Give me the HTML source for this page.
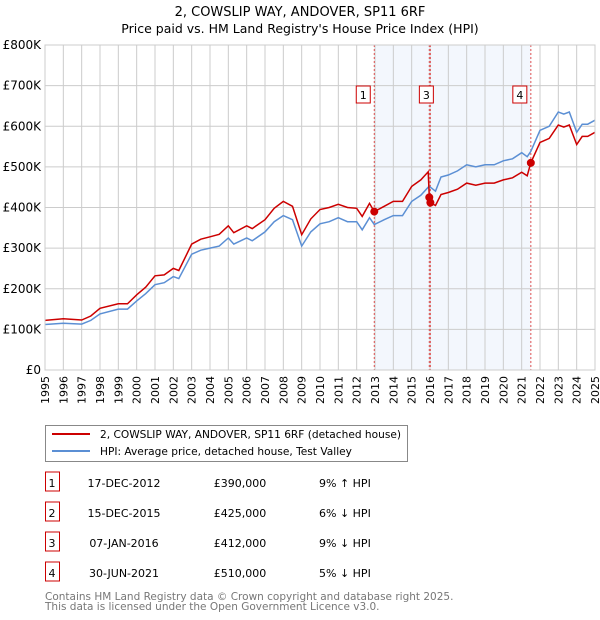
<!DOCTYPE html>
<html><head><meta charset="utf-8"><style>
body{margin:0;background:#fff;font-family:"Liberation Sans","DejaVu Sans",sans-serif;}
svg{display:block}
</style></head><body>
<svg width="600" height="620" xmlns="http://www.w3.org/2000/svg" font-family="DejaVu Sans, Liberation Sans, sans-serif">
<text x="300" y="16" text-anchor="middle" font-size="13">2, COWSLIP WAY, ANDOVER, SP11 6RF</text>
<text x="300" y="33" text-anchor="middle" font-size="12.5">Price paid vs. HM Land Registry's House Price Index (HPI)</text>
<g id="plot"></g>
<g>
<rect x="45.5" y="425.5" width="362" height="36" fill="#fff" stroke="#888"/>
<line x1="52" y1="434" x2="90" y2="434" stroke="#cc0000" stroke-width="2"/>
<text x="100" y="438" font-size="10.6">2, COWSLIP WAY, ANDOVER, SP11 6RF (detached house)</text>
<line x1="52" y1="451" x2="90" y2="451" stroke="#5b8fd4" stroke-width="2"/>
<text x="100" y="455" font-size="10.6">HPI: Average price, detached house, Test Valley</text>
</g>
<g id="table" font-size="11"></g>
<text x="45" y="600" font-size="10.5" fill="#777">Contains HM Land Registry data © Crown copyright and database right 2025.</text>
<text x="45" y="610" font-size="10.5" fill="#777">This data is licensed under the Open Government Licence v3.0.</text>
</svg>
<script>
const years=[1995,1996,1997,1997.5,1998,1999,1999.5,2000,2000.5,2001,2001.5,2002,2002.3,2003,2003.5,2004,2004.5,2005,2005.3,2006,2006.3,2007,2007.5,2008,2008.5,2009,2009.5,2010,2010.5,2011,2011.5,2012,2012.3,2012.7,2012.96,2013.5,2014,2014.5,2015,2015.5,2015.9,2015.96,2016.02,2016.3,2016.6,2017,2017.5,2018,2018.5,2019,2019.5,2020,2020.5,2021,2021.3,2021.5,2022,2022.5,2023,2023.3,2023.6,2024,2024.3,2024.6,2025];
const hpi=[112,115,113,122,138,150,150,170,188,210,215,230,225,285,295,300,305,325,310,325,318,340,365,380,370,305,340,360,365,375,365,365,345,375,358,370,380,380,415,430,450,452,450,440,475,480,490,505,500,505,505,515,520,535,525,538,590,600,635,630,635,585,605,605,615];
const price=[122,126,123,133,152,163,163,185,204,232,234,250,245,310,322,328,334,355,338,355,348,370,398,415,403,333,372,395,400,408,400,398,378,410,390,403,415,415,452,468,488,425,412,405,432,437,445,460,455,460,460,468,473,487,478,510,560,570,603,598,603,555,575,575,585];
const saleYears=[2012.96,2015.96,2016.02,2021.5];
const saleValues=[390,425,412,510];
const saleLabels=["1","2","3","4"];
const saleDates=["17-DEC-2012","15-DEC-2015","07-JAN-2016","30-JUN-2021"];
const salePrices=["£390,000","£425,000","£412,000","£510,000"];
const saleHpi=["9% ↑ HPI","6% ↓ HPI","9% ↓ HPI","5% ↓ HPI"];
const yTicks=[0,100,200,300,400,500,600,700,800];
const yTickLabels=["£0","£100K","£200K","£300K","£400K","£500K","£600K","£700K","£800K"];
const NS="http://www.w3.org/2000/svg";
const X0=45,X1=595,Y0=370,Y1=45;
const xs=y=>X0+(y-1995)/30*(X1-X0);
const ys=v=>Y0-v/800*(Y0-Y1);
const plot=document.getElementById('plot');
function mk(tag,attrs,parent){const e=document.createElementNS(NS,tag);for(const k in attrs)e.setAttribute(k,attrs[k]);(parent||plot).appendChild(e);return e;}
const bg=mk('rect',{x:X0,y:Y1,width:X1-X0,height:Y0-Y1,fill:'#fff'});


const sh=mk('rect',{x:xs(saleYears[0]),y:Y1,width:xs(saleYears[3])-xs(saleYears[0]),height:Y0-Y1,fill:'#eef3fc',opacity:0.7});


for(let yr=1995;yr<=2025;yr++){
 const l=mk('line',{x1:xs(yr),x2:xs(yr),y1:Y1,y2:Y0,stroke:'#ccc','stroke-width':1});
 
 
 const t=mk('text',{x:0,y:0,'font-size':11,'text-anchor':'end',transform:`translate(${xs(yr)+4},${Y0+6}) rotate(-90)`});
 t.textContent=yr;
 
 
}
yTicks.forEach((v,i)=>{
 const l=mk('line',{x1:X0,x2:X1,y1:ys(v),y2:ys(v),stroke:'#ccc','stroke-width':1});
 
 
 const t=mk('text',{x:X0-4,y:ys(v)+4,'font-size':12,'text-anchor':'end'});
 t.textContent=yTickLabels[i];
 
 
});
saleYears.forEach((y,i)=>{
 const l=mk('line',{x1:xs(y),x2:xs(y),y1:Y1,y2:Y0,stroke:'#e05050','stroke-width':1,'stroke-dasharray':'2,2'});
 
 
});
const pts=a=>a.map((v,i)=>xs(years[i]).toFixed(1)+','+ys(v).toFixed(1)).join(' ');
const hl=mk('polyline',{points:pts(hpi),fill:'none',stroke:'#5b8fd4','stroke-width':1.5});


const pl=mk('polyline',{points:pts(price),fill:'none',stroke:'#cc0000','stroke-width':1.5});


saleYears.forEach((y,i)=>{
 const c=mk('circle',{cx:xs(y),cy:ys(saleValues[i]),r:4,fill:'#cc0000'});
 
 
 if(i!==1){
  const bx=xs(y)-(i===0?11:(i===2?4:11));
  const b=mk('rect',{x:bx-7,y:86,width:14,height:17,fill:'#fff',stroke:'#cc0000'});
  
  
  const t=mk('text',{x:bx,y:99,'font-size':11,'text-anchor':'middle'});
  t.textContent=saleLabels[i];
  
  
 }
});
const ax=mk('rect',{x:X0,y:Y1,width:X1-X0,height:Y0-Y1,fill:'none',stroke:'#ccc'});


const tb=document.getElementById('table');
saleLabels.forEach((s,i)=>{
 const y=477+i*30;
 const b=mk('rect',{x:45.5,y:y-5,width:14,height:19,fill:'#fff',stroke:'#cc0000'},tb);
 
 
 const cols=[[52,s,'middle'],[120,saleDates[i],'middle'],[240,salePrices[i],'middle'],[319,saleHpi[i],'start']];
 cols.forEach((c,j)=>{
  const t=mk('text',{x:c[0]+(j===1?4:0),y:y+10,'text-anchor':c[2]},tb);
  t.textContent=c[1];
  
  
 });
});
</script>
</body></html>
